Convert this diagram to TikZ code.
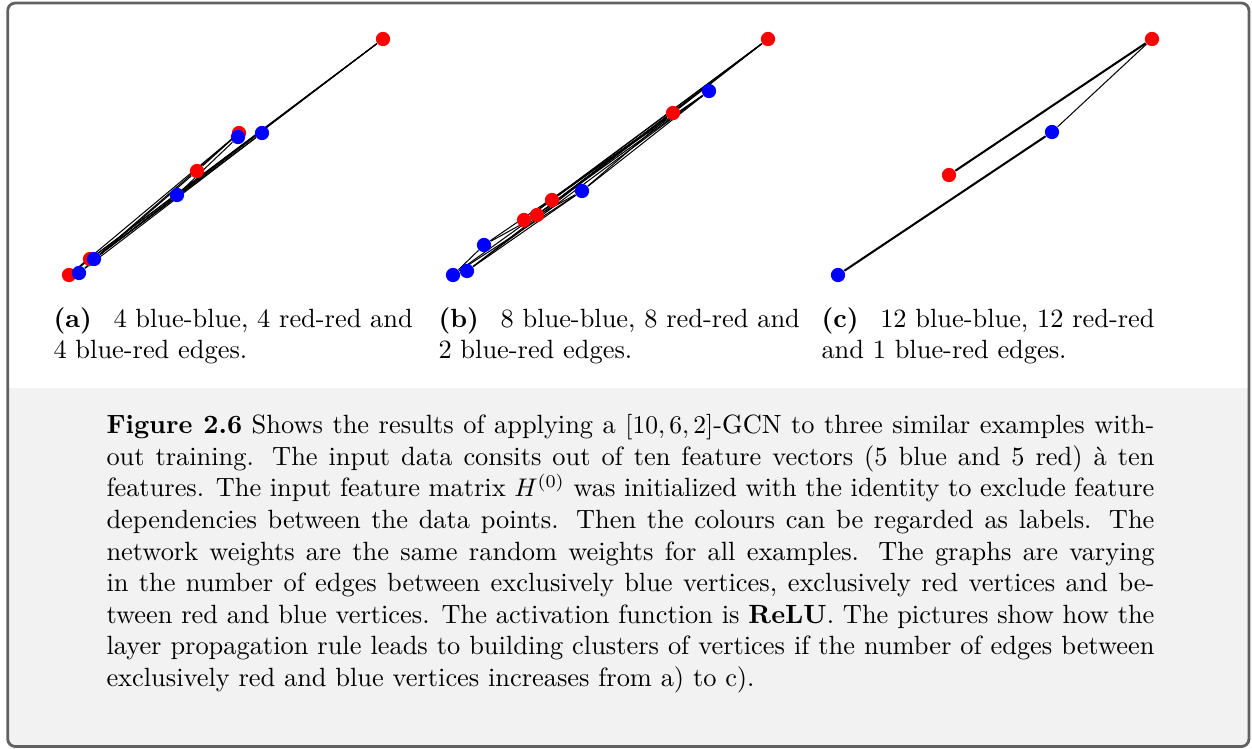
\documentclass[tikz,border=0pt]{standalone}
\usepackage{amsmath}
\usetikzlibrary{backgrounds}

\begin{document}
\begin{tikzpicture}[
  x=0.3922pt, y=-0.3922pt,
  every node/.style={font=\fontsize{10.35pt}{12.2pt}\selectfont},
  rnode/.style={circle, fill=red, inner sep=0pt, minimum size=5.6pt},
  bnode/.style={circle, fill=blue, inner sep=0pt, minimum size=5.6pt},
  gedge/.style={black, line width=0.4pt},
  bundle/.style={black, line width=0.8pt},
  subcap/.style={anchor=north west, inner sep=0pt, align=left},
  frame/.style={draw=black!62, line width=1.1pt, rounded corners=3pt}
]
\useasboundingbox (0,0) rectangle (1252,748);

% ---- Box: white upper part, grey lower part ----
\begin{scope}
  \clip (0,388) rectangle (1252,748);
  \fill[gray!10, rounded corners=3pt] (7.7,3) rectangle (1249,746.5);
\end{scope}
\draw[frame] (7.7,3) rectangle (1249,746.5);

% ---- (a) 4 blue-blue, 4 red-red, 4 blue-red ----
\node[rnode] (ar1) at (383,39) {};
\node[rnode] (ar2) at (239,133) {};
\node[rnode] (ar3) at (197,171) {};
\node[rnode] (ar4) at (90,259) {};
\node[rnode] (ar5) at (69,275) {};
\node[bnode] (ab1) at (238,137) {};
\node[bnode] (ab2) at (262,133) {};
\node[bnode] (ab3) at (177,195) {};
\node[bnode] (ab4) at (94,259) {};
\node[bnode] (ab5) at (79,273) {};

% ---- (b) 8 blue-blue, 8 red-red, 2 blue-red ----
\node[rnode] (br1) at (768,39) {};
\node[rnode] (br2) at (673,113) {};
\node[rnode] (br3) at (552,200) {};
\node[rnode] (br4) at (537,215) {};
\node[rnode] (br5) at (524,220) {};
\node[bnode] (bb1) at (709,91) {};
\node[bnode] (bb2) at (582,191) {};
\node[bnode] (bb3) at (484,245) {};
\node[bnode] (bb4) at (467,271) {};
\node[bnode] (bb5) at (453,275) {};

% ---- (c) 12 blue-blue, 12 red-red, 1 blue-red ----
\node[rnode] (cr1) at (1152,39) {};
\node[rnode] (cr2) at (949,175) {};
\node[bnode] (cb1) at (1052,132) {};
\node[bnode] (cb2) at (838,275) {};

% ---- Edges (behind the vertices) ----
\begin{scope}[on background layer]
  \foreach \u/\v in {ar1/ar4, ar1/ar5, ar2/ar3, ar2/ar5,
                     ab2/ab4, ab2/ab5, ab1/ab3, ab3/ab4,
                     ar1/ab3, ar1/ab4, ar3/ab5, ar2/ab4}
    \draw[gedge] (\u) -- (\v);
  \foreach \u/\v in {br1/br3, br1/br4, br1/br5, br2/br3, br2/br4, br2/br5, br1/br2, br3/br5,
                     bb1/bb3, bb1/bb4, bb1/bb5, bb2/bb3, bb2/bb4, bb1/bb2, bb3/bb5, bb2/bb5,
                     br2/bb2, br1/bb4}
    \draw[gedge] (\u) -- (\v);
  \draw[bundle] (cr1) -- (cr2);
  \draw[bundle] (cb1) -- (cb2);
  \draw[gedge] (cb1) -- (cr1);
\end{scope}

% ---- Subcaptions ----
\node[subcap] (capa) at (53,307)
  {\textbf{(a)}\hspace{8.5pt}4 blue-blue, 4 red-red and\\4 blue-red edges.};
\node[subcap] (capb) at (438,307)
  {\textbf{(b)}\hspace{8.5pt}8 blue-blue, 8 red-red and\\2 blue-red edges.};
\node[subcap] (capc) at (821,307)
  {\textbf{(c)}\hspace{8.5pt}12 blue-blue, 12 red-red\\and 1 blue-red edges.};

% ---- Caption ----
\node[anchor=north west, inner sep=0pt, text width=411pt, align=justify,
      font=\fontsize{10.35pt}{12.4pt}\selectfont] (caption) at (106,414)
  {\textbf{Figure 2.6} Shows the results of applying a $[10,6,2]$-GCN to three similar
   examples without training. The input data consits out of ten feature vectors (5 blue
   and 5 red) à ten features. The input feature matrix $H^{(0)}$ was initialized with the
   identity to exclude feature dependencies between the data points. Then the colours can
   be regarded as labels. The network weights are the same random weights for all examples.
   The graphs are varying in the number of edges between exclusively blue vertices,
   exclusively red vertices and between red and blue vertices. The activation function is
   \textbf{ReLU}. The pictures show how the layer propagation rule leads to building
   clusters of vertices if the number of edges between exclusively red and blue vertices
   increases from a) to c).};

\end{tikzpicture}
\end{document}
